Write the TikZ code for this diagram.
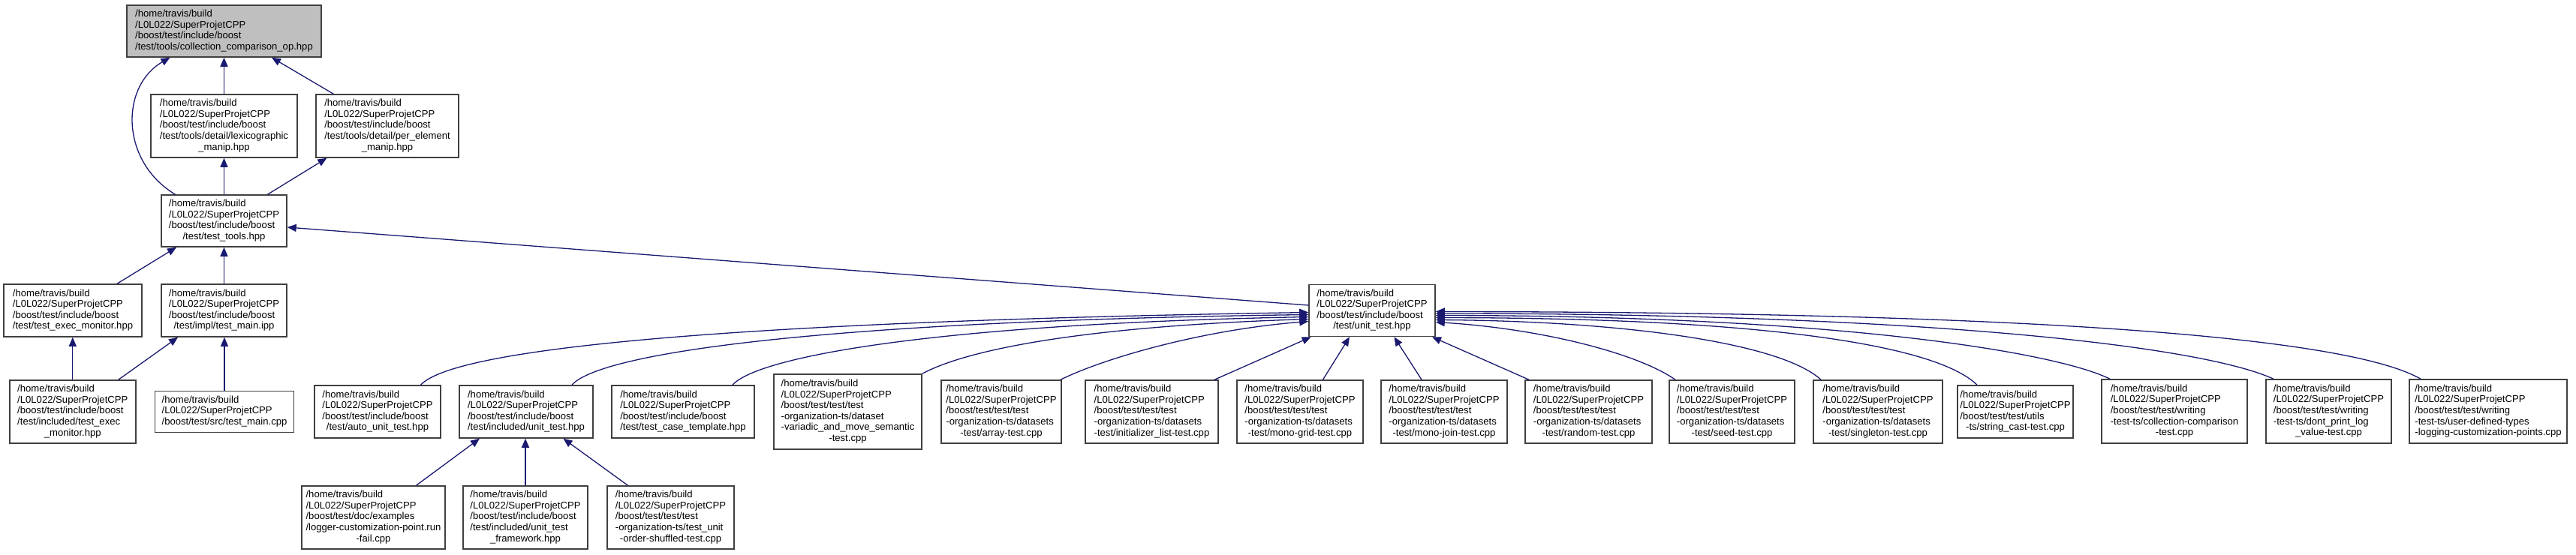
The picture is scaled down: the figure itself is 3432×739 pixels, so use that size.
\documentclass[tikz,border=0pt]{standalone}
\usepackage{fontspec}
\setmainfont{Liberation Sans}
\usetikzlibrary{arrows.meta}
\definecolor{edgec}{HTML}{191970}
\definecolor{boxc}{HTML}{404040}
\definecolor{topfill}{HTML}{BFBFBF}
\newcommand\doxlab[2]{\begin{tabular}{@{}l@{}}#1\\\multicolumn{1}{@{}c@{}}{#2}\end{tabular}}
\newcommand\homeL{/home/travis/build\\/L0L022/SuperProjetCPP}
\newcommand\incB{\homeL\\/boost/test/include/boost}
\newcommand\dsT{\homeL\\/boost/test/test/test\\-organization-ts/datasets}
\newcommand\wrT{\homeL\\/boost/test/test/writing}
\begin{document}
\begin{tikzpicture}[x=1pt,y=-1pt,
  nbox/.style={draw=boxc, line width=1.5pt, fill=white, inner sep=0pt,
    font=\fontsize{13.1}{14.6}\selectfont, align=center},
  sz/.style 2 args={minimum width=#1pt, minimum height=#2pt},
  edge/.style={draw=edgec, line width=1.3pt, -{Triangle[length=12pt,width=10pt]}}]
\useasboundingbox (0,0) rectangle (3432,739);

% nodes
\node[nbox, fill=topfill, sz={259}{69}] (top) at (298.5,41.5) {\doxlab{\incB}{/test/tools/collection\_comparison\_op.hpp}};
\node[nbox, sz={195}{84}] (lexi) at (298.5,168) {\doxlab{\incB\\/test/tools/detail/lexicographic}{\_manip.hpp}};
\node[nbox, sz={190}{84}] (perel) at (516,168) {\doxlab{\incB\\/test/tools/detail/per\_element}{\_manip.hpp}};
\node[nbox, sz={167}{69}] (tools) at (298.5,294.5) {\doxlab{\incB}{/test/test\_tools.hpp}};
\node[nbox, sz={184}{70}] (execmon) at (97,414) {\doxlab{\incB}{/test/test\_exec\_monitor.hpp}};
\node[nbox, sz={167}{70}] (mainipp) at (298.5,414) {\doxlab{\incB}{/test/impl/test\_main.ipp}};
\node[nbox, sz={168}{69}] (unittest) at (1828,414) {\doxlab{\incB}{/test/unit\_test.hpp}};

\node[nbox, sz={168}{84}] (execinc) at (96.8,549) {\doxlab{\incB\\/test/included/test\_exec}{\_monitor.hpp}};
\node[nbox, sz={185}{55}] (maincpp) at (299,549) {\doxlab{\homeL}{/boost/test/src/test\_main.cpp}};
\node[nbox, sz={168}{70}] (autout) at (503,549) {\doxlab{\incB}{/test/auto\_unit\_test.hpp}};
\node[nbox, sz={178}{70}] (inclut) at (701,549) {\doxlab{\incB}{/test/included/unit\_test.hpp}};
\node[nbox, sz={190}{70}] (tct) at (910,549) {\doxlab{\incB}{/test/test\_case\_template.hpp}};
\node[nbox, sz={197}{100}] (variadic) at (1129.5,549) {\doxlab{\homeL\\/boost/test/test/test\\-organization-ts/dataset\\-variadic\_and\_move\_semantic}{-test.cpp}};
\node[nbox, sz={160}{84}] (array) at (1334,549) {\doxlab{\dsT}{-test/array-test.cpp}};
\node[nbox, sz={177}{84}] (initl) at (1534.5,549) {\doxlab{\dsT}{-test/initializer\_list-test.cpp}};
\node[nbox, sz={168}{84}] (monogrid) at (1732,549) {\doxlab{\dsT}{-test/mono-grid-test.cpp}};
\node[nbox, sz={168}{84}] (monojoin) at (1924,549) {\doxlab{\dsT}{-test/mono-join-test.cpp}};
\node[nbox, sz={169}{84}] (random) at (2116.5,549) {\doxlab{\dsT}{-test/random-test.cpp}};
\node[nbox, sz={167}{84}] (seed) at (2307.5,549) {\doxlab{\dsT}{-test/seed-test.cpp}};
\node[nbox, sz={172}{84}] (singleton) at (2502,549) {\doxlab{\dsT}{-test/singleton-test.cpp}};
\node[nbox, sz={154}{70}] (strcast) at (2685,549) {\doxlab{\homeL\\/boost/test/test/utils}{-ts/string\_cast-test.cpp}};
\node[nbox, sz={194}{85}] (collcmp) at (2897,548.5) {\doxlab{\wrT\\-test-ts/collection-comparison}{-test.cpp}};
\node[nbox, sz={167}{85}] (dontprint) at (3102.5,548.5) {\doxlab{\wrT\\-test-ts/dont\_print\_log}{\_value-test.cpp}};
\node[nbox, sz={210}{85}] (userdef) at (3315,548.5) {\doxlab{\wrT\\-test-ts/user-defined-types}{-logging-customization-points.cpp}};

\node[nbox, sz={191}{84}] (logger) at (497.5,690) {\doxlab{\homeL\\/boost/test/doc/examples\\/logger-customization-point.run}{-fail.cpp}};
\node[nbox, sz={166}{84}] (utf) at (700,690) {\doxlab{\incB\\/test/included/unit\_test}{\_framework.hpp}};
\node[nbox, sz={169}{84}] (shuffled) at (893.5,690) {\doxlab{\homeL\\/boost/test/test/test\\-organization-ts/test\_unit}{-order-shuffled-test.cpp}};

% edges, upper part
\draw[edge] ([xshift=-65pt]tools.north) .. controls (160,215) and (160,115) .. ([xshift=-72pt]top.south);
\draw[edge] (lexi.north) -- (top.south);
\draw[edge] ([xshift=-71.7pt]perel.north) -- ([xshift=63.5pt]top.south);
\draw[edge] (tools.north) -- (lexi.south);
\draw[edge] ([xshift=58pt]tools.north) -- ([xshift=-80.6pt]perel.south);
\draw[edge] ([yshift=7pt]unittest.west) -- ([yshift=-8.5pt]tools.east);
\draw[edge] ([xshift=59pt]execmon.north) -- ([xshift=-63.5pt]tools.south);
\draw[edge] (mainipp.north) -- (tools.south);
\draw[edge] (execinc.north) -- (execinc.north |- execmon.south);
\draw[edge] ([xshift=61pt]execinc.north) -- ([xshift=-61.5pt]mainipp.south);
\draw[edge] (maincpp.north) -- (maincpp.north |- mainipp.south);

% included/unit_test children
\draw[edge] ([xshift=57pt]logger.north) -- ([xshift=-62pt]inclut.south);
\draw[edge] (utf.north) -- (utf.north |- inclut.south);
\draw[edge] ([xshift=-57pt]shuffled.north) -- ([xshift=49.4pt]inclut.south);

% into unit_test.hpp from below
\draw[edge] ([xshift=83.5pt]initl.north) -- ([xshift=-81.3pt]unittest.south);
\draw[edge] ([xshift=30.5pt]monogrid.north) -- ([xshift=-30pt]unittest.south);
\draw[edge] ([xshift=-30pt]monojoin.north) -- ([xshift=29.4pt]unittest.south);
\draw[edge] ([xshift=-79.5pt]random.north) -- ([xshift=80pt]unittest.south);

% into unit_test.hpp from the left
\draw[edge] ([xshift=57.5pt]autout.north) .. controls (600,470) and (900,430) .. ([yshift=-2.5pt]unittest.west);
\draw[edge] ([xshift=61pt]inclut.north) .. controls (800,470) and (1100,428) .. ([yshift=-5.5pt]unittest.west);
\draw[edge] ([xshift=66pt]tct.north) .. controls (1010,475) and (1250,432) .. ([yshift=-8.5pt]unittest.west);
\draw[edge] (variadic.north east) .. controls (1290,465) and (1450,435) .. ([yshift=-11.5pt]unittest.west);
\draw[edge] ([xshift=79pt]array.north) .. controls (1470,478) and (1600,440) .. ([yshift=-14.5pt]unittest.west);

% into unit_test.hpp from the right
\draw[edge] ([xshift=-75.5pt]seed.north) .. controls (2180,470) and (2050,438) .. ([yshift=-15.5pt]unittest.east);
\draw[edge] ([xshift=-76pt]singleton.north) .. controls (2370,455) and (2150,428) .. ([yshift=-12.5pt]unittest.east);
\draw[edge] ([xshift=-51pt]strcast.north) .. controls (2580,460) and (2350,424) .. ([yshift=-9.5pt]unittest.east);
\draw[edge] ([xshift=-86pt]collcmp.north) .. controls (2740,470) and (2450,421) .. ([yshift=-6.5pt]unittest.east);
\draw[edge] ([xshift=-73.5pt]dontprint.north) .. controls (2930,460) and (2550,418) .. ([yshift=-4pt]unittest.east);
\draw[edge] ([xshift=-90pt]userdef.north) .. controls (3120,445) and (2650,416) .. ([yshift=-1.5pt]unittest.east);
\end{tikzpicture}
\end{document}
